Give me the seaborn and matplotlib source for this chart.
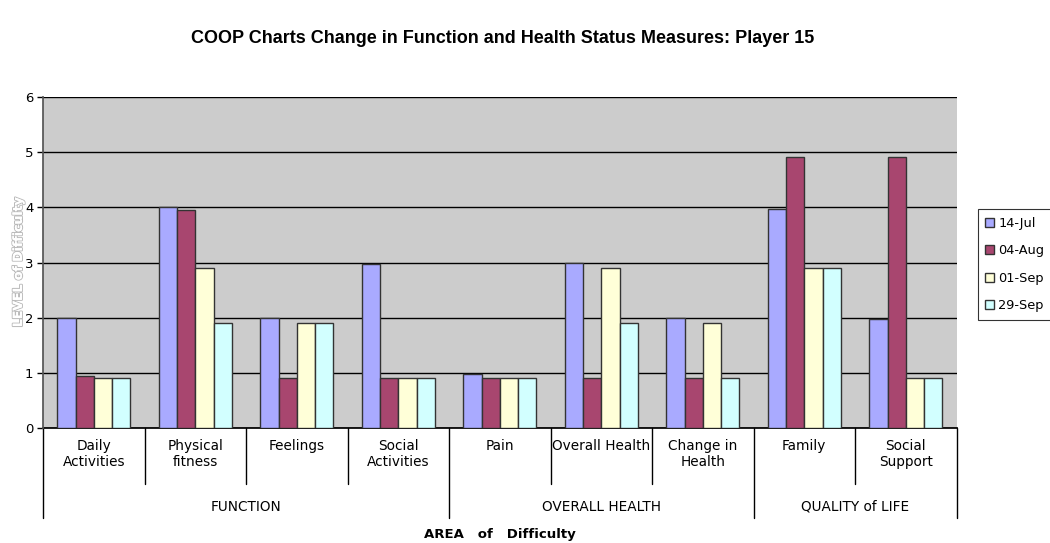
import matplotlib.pyplot as plt
import matplotlib.patheffects as pe
import numpy as np
import pandas as pd
import seaborn as sns

# Données
areas = ["Daily\nActivities", "Physical\nfitness", "Feelings", "Social\nActivities",
         "Pain", "Overall Health", "Change in\nHealth", "Family", "Social\nSupport"]
dates = ["14-Jul", "04-Aug", "01-Sep", "29-Sep"]
jul14 = [2.0, 4.0, 2.0, 2.97, 0.97, 3.0, 2.0, 3.97, 1.97]
aug04 = [0.95, 3.95, 0.9, 0.9, 0.9, 0.9, 0.9, 4.92, 4.92]
sep01 = [0.9, 2.9, 1.9, 0.9, 0.9, 2.9, 1.9, 2.9, 0.9]
sep29 = [0.9, 1.9, 1.9, 0.9, 0.9, 1.9, 0.9, 2.9, 0.9]
groups = ["FUNCTION", "OVERALL HEALTH", "QUALITY of LIFE"]
group_sizes = [4, 3, 2]
colors = ["#A9AAFF", "#A8466F", "#FFFFD8", "#D2FFFF"]

df = pd.DataFrame({
    "area": areas * 4,
    "date": np.repeat(dates, len(areas)),
    "level": jul14 + aug04 + sep01 + sep29,
})

sns.set_theme(style="white")
plt.rcParams["font.family"] = ["DejaVu Sans"]
plt.rcParams["text.color"] = "black"
plt.rcParams["xtick.color"] = "black"
plt.rcParams["ytick.color"] = "black"
fig = plt.figure(figsize=(10.5, 5.43), dpi=100)
ax = fig.add_axes([0.041, 0.212, 0.870, 0.609])
ax.set_facecolor("#CCCCCC")

sns.barplot(data=df, x="area", y="level", hue="date", palette=colors, saturation=1,
            width=0.72, gap=0, edgecolor="#333333", linewidth=1, ax=ax, zorder=3)

ax.set_ylim(0, 6)
ax.set_xlim(-0.5, len(areas) - 0.5)
ax.set_yticks(range(7))
ax.tick_params(axis="y", length=4, width=1, color="black", labelsize=9.5, pad=3, left=True)
ax.tick_params(axis="x", length=0, labelsize=9.8, pad=8)
ax.yaxis.grid(True, color="black", linewidth=1, zorder=1)
ax.set_axisbelow(True)
for s in ["top", "right"]:
    ax.spines[s].set_visible(False)
ax.spines["left"].set_color("#555555")
ax.spines["bottom"].set_color("black")
ax.spines["left"].set_zorder(5)
ax.set_xlabel("")
ax.set_ylabel("")

# séparateurs hiérarchiques
tr = ax.get_xaxis_transform()
bounds = np.cumsum([0] + group_sizes) - 0.5
for i in range(len(areas) + 1):
    x = i - 0.5
    low = -0.272 if x in bounds else -0.169
    ax.plot([x, x], [0, low], transform=tr, color="black", lw=1, clip_on=False)
for g, lo, hi in zip(groups, bounds[:-1], bounds[1:]):
    ax.text((lo + hi) / 2, -0.239, g, transform=tr, ha="center", va="center", fontsize=9.8)

ax.text(0.5, -0.322, "AREA   of   Difficulty", transform=ax.transAxes, ha="center",
        va="center", fontsize=9.5, fontweight="bold")
yl = ax.text(-0.027, 0.5, "LEVEL of Difficulty", transform=ax.transAxes, rotation=90,
             ha="center", va="center", fontsize=9, fontweight="bold", color="white")
yl.set_path_effects([pe.withStroke(linewidth=1.5, foreground="#BBBBBB"), pe.Normal()])

fig.suptitle("COOP Charts Change in Function and Health Status Measures: Player 15",
             x=0.479, y=0.945, fontsize=13, fontweight="bold", family="Liberation Sans",
             color="black")

leg = ax.legend(loc="upper left", bbox_to_anchor=(1.016, 0.68), frameon=True,
                fontsize=9.3, handlelength=0.7, handleheight=0.7, handletextpad=0.3,
                labelspacing=1.1, borderpad=0.6, fancybox=False)
leg.get_frame().set_edgecolor("black")
leg.get_frame().set_linewidth(0.8)

plt.savefig("out.png", dpi=100)
plt.close()
